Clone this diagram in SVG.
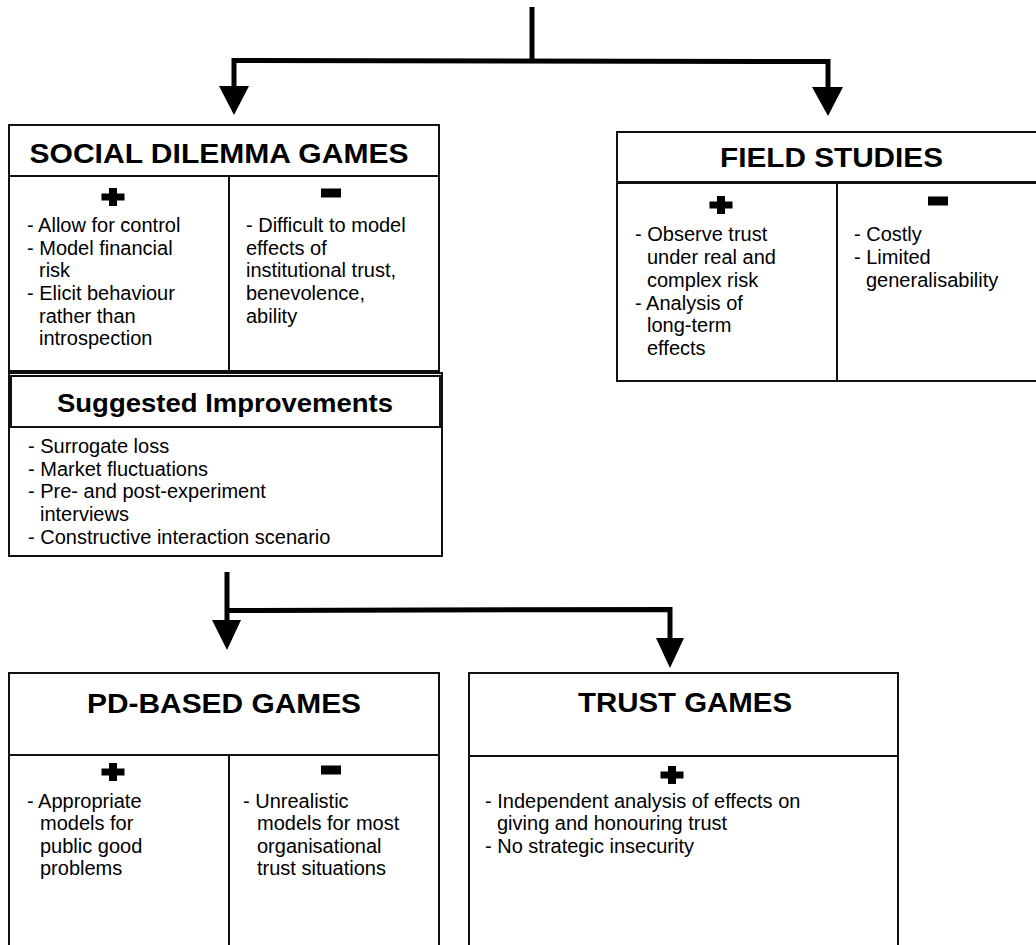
<svg xmlns="http://www.w3.org/2000/svg" xmlns:xlink="http://www.w3.org/1999/xlink" width="1036" height="945" viewBox="0 0 1036 945">
<style>
.box{fill:#fff;stroke:#111;stroke-width:2}
.ln{stroke:#111;stroke-width:2;fill:none}
.title{font-family:"Liberation Sans",Arial,sans-serif;font-weight:bold;font-size:27.5px;fill:#000;text-anchor:middle}
.body{font-family:"Liberation Sans",Arial,sans-serif;font-size:20px;fill:#000}
.conn{stroke:#000;stroke-width:5;fill:none}
.head{fill:#000}
</style>
<defs>
<path id="plus" d="M-4,-9 h8 v5.5 h7.5 v7 h-7.5 v5.5 h-8 v-5.5 h-7.5 v-7 h7.5 z" fill="#000"/>
<rect id="minus" x="-10" y="-4.5" width="20" height="9" fill="#000"/>
</defs>
<rect width="1036" height="945" fill="#fff"/>

<g id="connectors">
<line class="conn" x1="532" y1="7" x2="532" y2="61"/>
<polyline class="conn" points="234,88 234,60.5 828,61.5 828,88"/>
<polygon class="head" points="219,86 249,86 234,115"/>
<polygon class="head" points="812,87 843,87 828,116"/>
<line class="conn" x1="227" y1="572" x2="227" y2="622"/>
<polyline class="conn" points="227,610.5 670,609.5 670,640"/>
<polygon class="head" points="212,620 241,620 227,650"/>
<polygon class="head" points="656,638 684,638 670,668"/>
</g>

<g id="social-dilemma-games">
<rect class="box" x="9" y="125" width="430" height="246"/>
<line class="ln" x1="9" y1="176" x2="439" y2="176"/>
<line class="ln" x1="229" y1="176" x2="229" y2="371"/>
<text class="title" x="219" y="163" textLength="379" lengthAdjust="spacingAndGlyphs">SOCIAL DILEMMA GAMES</text>
<use xlink:href="#plus" x="113" y="197"/>
<use xlink:href="#minus" x="331" y="193"/>
<text class="body"><tspan x="27" y="232">- Allow for control</tspan><tspan x="27" y="255">- Model financial</tspan><tspan x="39" y="277">risk</tspan><tspan x="27" y="300">- Elicit behaviour</tspan><tspan x="39" y="323">rather than</tspan><tspan x="39" y="345">introspection</tspan></text>
<text class="body"><tspan x="246" y="232">- Difficult to model</tspan><tspan x="246" y="255">effects of</tspan><tspan x="246" y="277">institutional trust,</tspan><tspan x="246" y="300">benevolence,</tspan><tspan x="246" y="323">ability</tspan></text>
</g>

<g id="suggested-improvements">
<rect class="box" x="9" y="373" width="433" height="183"/>
<rect class="box" x="11" y="376" width="429" height="51"/>
<text class="title" x="225" y="412" style="font-size:25.5px" textLength="336" lengthAdjust="spacingAndGlyphs">Suggested Improvements</text>
<text class="body"><tspan x="28" y="453">- Surrogate loss</tspan><tspan x="28" y="476">- Market fluctuations</tspan><tspan x="28" y="498">- Pre- and post-experiment</tspan><tspan x="40" y="521">interviews</tspan><tspan x="28" y="544">- Constructive interaction scenario</tspan></text>
</g>

<g id="field-studies">
<rect class="box" x="617" y="132" width="440" height="249"/>
<line class="ln" x1="617" y1="182.5" x2="1040" y2="182.5" style="stroke-width:3"/>
<line class="ln" x1="837" y1="183" x2="837" y2="381"/>
<text class="title" x="831.5" y="167" textLength="223" lengthAdjust="spacingAndGlyphs">FIELD STUDIES</text>
<use xlink:href="#plus" x="721" y="205"/>
<use xlink:href="#minus" x="938" y="201"/>
<text class="body"><tspan x="635" y="241">- Observe trust</tspan><tspan x="647" y="264">under real and</tspan><tspan x="647" y="287">complex risk</tspan><tspan x="635" y="310">- Analysis of</tspan><tspan x="647" y="332">long-term</tspan><tspan x="647" y="355">effects</tspan></text>
<text class="body"><tspan x="854" y="241">- Costly</tspan><tspan x="854" y="264">- Limited</tspan><tspan x="866" y="287">generalisability</tspan></text>
</g>

<g id="pd-based-games">
<rect class="box" x="9" y="673" width="430" height="300"/>
<line class="ln" x1="9" y1="755" x2="439" y2="755"/>
<line class="ln" x1="229" y1="755" x2="229" y2="945"/>
<text class="title" x="224" y="713" textLength="274" lengthAdjust="spacingAndGlyphs">PD-BASED GAMES</text>
<use xlink:href="#plus" x="113" y="772"/>
<use xlink:href="#minus" x="331" y="770"/>
<text class="body"><tspan x="27" y="808">- Appropriate</tspan><tspan x="40" y="830">models for</tspan><tspan x="40" y="853">public good</tspan><tspan x="40" y="875">problems</tspan></text>
<text class="body"><tspan x="243" y="808">- Unrealistic</tspan><tspan x="257" y="830">models for most</tspan><tspan x="257" y="853">organisational</tspan><tspan x="257" y="875">trust situations</tspan></text>
</g>

<g id="trust-games">
<rect class="box" x="469" y="673" width="429" height="300"/>
<line class="ln" x1="469" y1="756" x2="898" y2="756"/>
<text class="title" x="685" y="712" textLength="214" lengthAdjust="spacingAndGlyphs">TRUST GAMES</text>
<use xlink:href="#plus" x="672" y="775"/>
<text class="body"><tspan x="485" y="808">- Independent analysis of effects on</tspan><tspan x="497" y="830">giving and honouring trust</tspan><tspan x="485" y="853">- No strategic insecurity</tspan></text>
</g>
</svg>
